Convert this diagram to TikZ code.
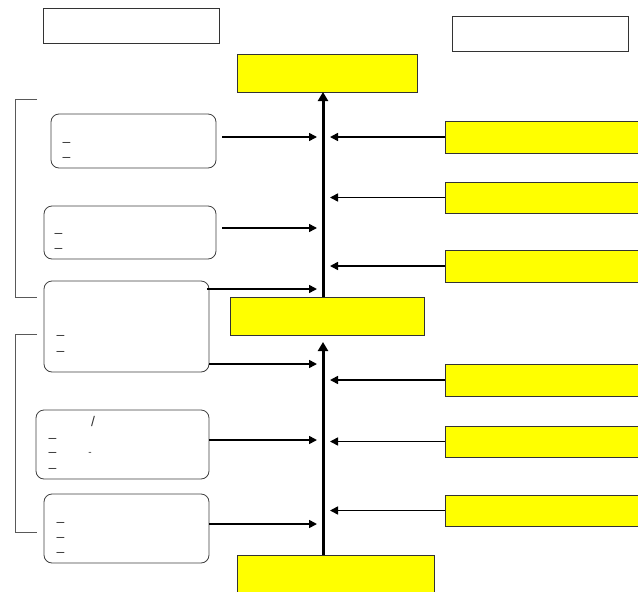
\documentclass[tikz,border=0pt]{standalone}
\usepackage{fontspec}
\setmainfont{Liberation Sans}
\usepackage{tikz}
\usetikzlibrary{arrows.meta,calc}
\definecolor{hotyellow}{RGB}{255,255,0}

\begin{document}
\begin{tikzpicture}[
  x=1pt, y=-1pt,
  font=\fontsize{14}{16}\selectfont,
  plain/.style={draw=black!80, fill=white, line width=0.8pt, inner sep=0pt, outer sep=0pt},
  hot/.style={draw=black!80, fill=hotyellow, line width=0.8pt, inner sep=0pt, outer sep=0pt},
  item/.style={draw=black!75, fill=white, rounded corners=8pt, line width=0.8pt, inner sep=0pt, outer sep=0pt},
  ar/.style={-{Triangle[length=8pt,width=8pt]}, line width=1.6pt},
  spinear/.style={-{Triangle[length=9pt,width=10pt]}, line width=3pt},
  brk/.style={draw=black!65, line width=0.8pt},
  glyph/.style={inner sep=0pt, text=black!80}
]
\useasboundingbox (0,0) rectangle (638,592);

% header boxes
\node[plain, minimum width=176, minimum height=35] (headl) at (131,25.5) {};
\node[plain, minimum width=176, minimum height=35] (headr) at (540,33.5) {};

% stages along the spine
\node[hot, minimum width=180, minimum height=38] (top) at (327,73) {};
\node[hot, minimum width=194, minimum height=38] (mid) at (327,316) {};
\node[hot, minimum width=197, minimum height=40] (bot) at (335.5,575) {};

% inputs from the right
\node[hot, minimum width=200, minimum height=32] (r1) at (545,137) {};
\node[hot, minimum width=200, minimum height=31] (r2) at (545,197.5) {};
\node[hot, minimum width=200, minimum height=32] (r3) at (545,266) {};
\node[hot, minimum width=200, minimum height=32] (r4) at (545,380) {};
\node[hot, minimum width=200, minimum height=31] (r5) at (545,441.5) {};
\node[hot, minimum width=200, minimum height=31] (r6) at (545,510.5) {};

% inputs from the left
\node[item, minimum width=165, minimum height=54] (l1) at (133.5,141) {};
\node[item, minimum width=172, minimum height=53] (l2) at (130,232.5) {};
\node[item, minimum width=165, minimum height=91] (l3) at (126.5,326.5) {};
\node[item, minimum width=173, minimum height=69] (l4) at (122.5,444.5) {};
\node[item, minimum width=165, minimum height=69] (l5) at (126.5,528.5) {};

% text remnants inside the left boxes
\foreach \x/\y [count=\i] in {66.5/144, 66.5/159, 58.5/235, 58.5/250, 60.5/337, 60.5/353,
    52.5/440, 52.5/454, 52.5/470, 60.5/524, 60.5/539, 60.5/554}
  \node[glyph] (dash\i) at (\x,\y) {–};
\node[glyph] (slash) at (93,421) {/};
\node[glyph, font=\fontsize{10}{12}\selectfont] (hyph) at (90,454) {-};

\coordinate (spine) at (323,0);
\coordinate (inl) at (317,0);
\coordinate (inr) at (330,0);

\draw[spinear] (mid.north -| spine) -- (top.south -| spine);
\draw[spinear, shorten >=7pt] (bot.north -| spine) -- (mid.south -| spine);

\draw[ar] ($(l1.east)+(6,-4)$) -- ($(l1.east -| inl)+(0,-4)$);
\draw[ar] ($(l2.east)+(6,-4.5)$) -- ($(l2.east -| inl)+(0,-4.5)$);
\draw[ar] ($(l3.north east)+(-2,8)$) -- ($(l3.north east -| inl)+(0,8)$);
\draw[ar] ($(l3.south east)+(0,-8)$) -- ($(l3.south east -| inl)+(0,-8)$);
\draw[ar] ($(l4.east)+(0,-4.5)$) -- ($(l4.east -| inl)+(0,-4.5)$);
\draw[ar] ($(l5.east)+(0,-4.5)$) -- ($(l5.east -| inl)+(0,-4.5)$);

\foreach \r in {r1,r2,r3,r4,r5,r6}
  \draw[ar] (\r.west) -- (\r.west -| inr);

% brackets
\draw[brk] (37,99) -- (15,99) -- (15,297) -- (37,297);
\draw[brk] (37,334) -- (15,334) -- (15,532) -- (37,532);
\end{tikzpicture}
\end{document}
